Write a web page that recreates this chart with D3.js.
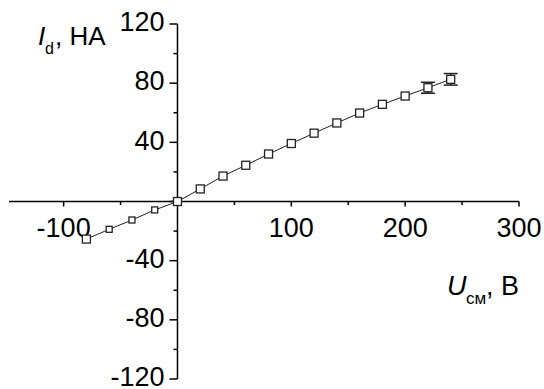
<!DOCTYPE html>
<html>
<head>
<meta charset="utf-8">
<script src="https://cdn.jsdelivr.net/npm/d3@7"></script>
<style>
  body { margin: 0; background: #fff; }
  svg { font-family: Arial, "Liberation Sans", sans-serif; }
</style>
</head>
<body>
<div id="chart"></div>
<script>
// data
let voltage = [-80, -60, -40, -20, 0, 20, 40, 60, 80, 100, 120, 140, 160, 180, 200, 220, 240]
let current = [-25.4, -18.8, -12.5, -5.7, 0, 8.5, 17.2, 24.5, 32.1, 39.2, 46.2, 53.1, 59.8, 65.7, 71.3, 76.9, 82.6]
let errors  = [0, 0, 0, 0, 0, 0, 0, 0, 0, 0, 0, 0, 0, 0, 0, 3.7, 3.9]
let xTicks = [-100, 100, 200, 300]
let xMinor = [-100, -50, 0, 50, 100, 150, 200, 250, 300]
let yTicks = [-120, -80, -40, 40, 80, 120]
let yMinor = d3.range(-120, 121, 20)

let width = 544, height = 389

let data = voltage.map((v, i) => ({u: v, i: current[i], err: errors[i]}))

let svg = d3.select("#chart").append("svg")
    .attr("width", width)
    .attr("height", height)

let x = d3.scaleLinear().domain([-148, 300]).range([9, 519])
let y = d3.scaleLinear().domain([-120, 120]).range([379, 24])

// x axis through y = 0
let gx = svg.append("g").attr("transform", `translate(0,${y(0)})`)
gx.append("line")
    .attr("x1", x.range()[0]).attr("x2", x.range()[1])
    .attr("stroke", "#000").attr("stroke-width", 1.5)
gx.selectAll(".minor").data(xMinor).join("line")
    .attr("x1", d => x(d)).attr("x2", d => x(d))
    .attr("y1", 0).attr("y2", d => d % 100 === 0 ? 5 : 3.5)
    .attr("stroke", "#000").attr("stroke-width", 1.5)
gx.selectAll("text").data(xTicks).join("text")
    .attr("x", d => x(d))
    .attr("y", 35)
    .attr("text-anchor", "middle")
    .attr("font-size", 27)
    .text(d => d)

// y axis through x = 0
let gy = svg.append("g").attr("transform", `translate(${x(0)},0)`)
gy.append("line")
    .attr("y1", y.range()[0]).attr("y2", y.range()[1])
    .attr("stroke", "#000").attr("stroke-width", 1.5)
gy.selectAll(".minor").data(yMinor).join("line")
    .attr("y1", d => y(d)).attr("y2", d => y(d))
    .attr("x1", 0).attr("x2", d => d % 40 === 0 ? -8 : -4)
    .attr("stroke", "#000").attr("stroke-width", 1.5)
gy.selectAll("text").data(yTicks).join("text")
    .attr("x", -13)
    .attr("y", d => y(d))
    .attr("dy", "0.27em")
    .attr("text-anchor", "end")
    .attr("font-size", 27)
    .text(d => d)

// line
svg.append("path")
    .datum(data)
    .attr("fill", "none")
    .attr("stroke", "#222")
    .attr("stroke-width", 1)
    .attr("d", d3.line().x(d => x(d.u)).y(d => y(d.i)))

// error bars
let eb = svg.append("g").attr("stroke", "#222").attr("stroke-width", 1.5)
    .selectAll("g").data(data.filter(d => d.err > 0)).join("g")
eb.append("line")
    .attr("x1", d => x(d.u)).attr("x2", d => x(d.u))
    .attr("y1", d => y(d.i + d.err)).attr("y2", d => y(d.i - d.err))
eb.append("line")
    .attr("x1", d => x(d.u) - 7).attr("x2", d => x(d.u) + 7)
    .attr("y1", d => y(d.i + d.err)).attr("y2", d => y(d.i + d.err))
eb.append("line")
    .attr("x1", d => x(d.u) - 7).attr("x2", d => x(d.u) + 7)
    .attr("y1", d => y(d.i - d.err)).attr("y2", d => y(d.i - d.err))

// square markers (the ones between -80 and 0 are drawn a bit smaller)
let size = d => (d.u > -80 && d.u < 0) ? 6 : 8
svg.append("g").selectAll("rect").data(data).join("rect")
    .attr("x", d => x(d.u) - size(d) / 2)
    .attr("y", d => y(d.i) - size(d) / 2)
    .attr("width", size)
    .attr("height", size)
    .attr("fill", "#fff")
    .attr("stroke", "#222")
    .attr("stroke-width", 1.3)

// axis titles
let ty = svg.append("text").attr("y", 45).attr("font-size", 26)
ty.append("tspan").attr("x", 38).attr("font-style", "italic").text("I")
ty.append("tspan").attr("x", 45).attr("font-size", 16).attr("dy", 9).text("d")
ty.append("tspan").attr("x", 55).attr("dy", -9).text(", НА")

let tx = svg.append("text").attr("y", 295).attr("font-size", 27)
tx.append("tspan").attr("x", 447).attr("font-style", "italic").text("U")
tx.append("tspan").attr("x", 466).attr("font-size", 17).attr("dy", 9).text("см")
tx.append("tspan").attr("x", 486).attr("dy", -9).text(", В")
</script>
</body>
</html>
